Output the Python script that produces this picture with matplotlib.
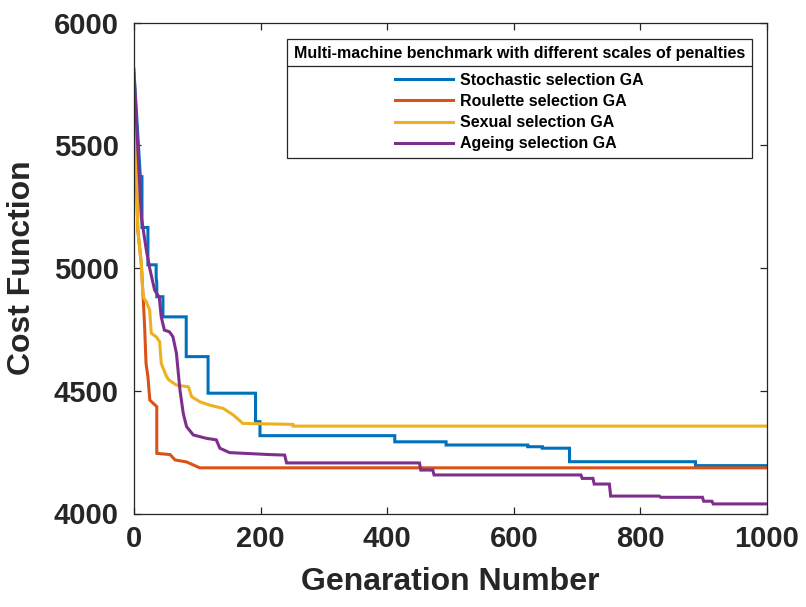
import matplotlib
matplotlib.use("Agg")
import matplotlib.pyplot as plt
from matplotlib.lines import Line2D

plt.rcParams["font.family"] = ["Liberation Sans", "DejaVu Sans"]
plt.rcParams["font.weight"] = "bold"

# Best cost per generation for each GA variant (vertices of the convergence curves)
stochastic_x = [0, 10, 12.6, 12.6, 22, 22, 35, 35, 36, 36, 45.7, 45.7, 82.5, 82.5, 117, 117,
                192, 192, 199, 199, 412, 412, 493, 493, 622, 622, 645, 645, 688, 688, 887, 887, 1000]
stochastic_y = [5800, 5372, 5372, 5165, 5165, 5013, 5013, 4960, 4940, 4883, 4883, 4801, 4801, 4639, 4639, 4490,
                4490, 4374, 4374, 4317, 4317, 4292, 4292, 4279, 4279, 4272, 4272, 4266, 4266, 4211, 4211, 4195, 4195]

roulette_x = [0, 6, 11.5, 14.7, 17, 19, 22, 25, 36, 36, 57, 65, 83, 104, 1000]
roulette_y = [5810, 5155, 5019, 4870, 4747, 4612, 4557, 4462, 4435, 4245, 4240, 4218, 4210, 4186, 4186]

sexual_x = [0, 6, 11.5, 14.2, 19.4, 24.7, 27.3, 35, 40.5, 43, 51, 55, 67, 86, 91, 104, 120, 141, 157,
            172, 251, 251, 1000]
sexual_y = [5810, 5155, 5019, 4883, 4863, 4829, 4734, 4720, 4700, 4612, 4560, 4544, 4523, 4516, 4476, 4455,
            4441, 4428, 4401, 4367, 4363, 4356, 4356]

ageing_x = [0, 11.5, 19.5, 24.7, 32.6, 40, 43, 48, 56, 61.5, 67, 72.6, 77.8, 83, 93.6, 114.7, 130, 135.6,
            151, 214.5, 238, 241, 451, 453, 472, 474, 706, 708, 725, 727, 751, 753, 830, 832, 898, 900,
            913, 915, 1000]
ageing_y = [5790, 5209, 5073, 5000, 4910, 4880, 4801, 4747, 4740, 4720, 4653, 4503, 4408, 4354, 4320, 4306,
            4300, 4266, 4248, 4240, 4238, 4206, 4206, 4177, 4177, 4157, 4157, 4143, 4143, 4120, 4120, 4071,
            4071, 4066, 4066, 4050, 4050, 4039, 4039]

labels = ["Stochastic selection GA", "Roulette selection GA", "Sexual selection GA", "Ageing selection GA"]
colors = ["#0072BD", "#D95319", "#EDB120", "#7E2F8E"]
legend_title = "Multi-machine benchmark with different scales of penalties"

x_ticks = [0, 200, 400, 600, 800, 1000]
y_ticks = [4000, 4500, 5000, 5500, 6000]

fig = plt.figure(figsize=(8.06, 6.07), dpi=100)
ax = fig.add_axes([134 / 806, 1 - 513.5 / 607, (767 - 134) / 806, 491 / 607])

series = [(stochastic_x, stochastic_y), (roulette_x, roulette_y),
          (sexual_x, sexual_y), (ageing_x, ageing_y)]
for (xs, ys), lab, col in zip(series, labels, colors):
    ax.plot(xs, ys, color=col, lw=2.2, label=lab, solid_joinstyle="miter")

ax.set_xlim(0, 1000)
ax.set_ylim(4000, 6000)
ax.set_xticks(x_ticks)
ax.set_yticks(y_ticks)
ax.tick_params(direction="in", top=True, right=True, length=5, width=0.9, color="#262626")
ax.tick_params(axis="x", labelsize=21, pad=8)
ax.tick_params(axis="y", labelsize=21, pad=11)
for lbl in ax.get_xticklabels() + ax.get_yticklabels():
    lbl.set_fontweight("bold")
    lbl.set_color("#262626")
for sp in ax.spines.values():
    sp.set_linewidth(0.9)
    sp.set_color("#262626")

ax.set_xlabel("Genaration Number", fontsize=23, fontweight="bold", labelpad=10, color="#262626")
ax.set_ylabel("Cost Function", fontsize=23, fontweight="bold", labelpad=12, color="#262626")

leg = ax.legend(title=legend_title, loc="upper right", bbox_to_anchor=(0.976, 0.966),
                prop={"size": 11.5, "weight": "bold"},
                title_fontproperties={"size": 11.5, "weight": "bold"},
                fancybox=False, framealpha=1, edgecolor="#262626", borderpad=0.42,
                labelspacing=0.39, handlelength=3.6, handletextpad=0.45, borderaxespad=0)
leg.get_frame().set_linewidth(0.9)
# wider gap between the title and the entries
leg._legend_box.sep = 8.5

# separator line between the legend title and its entries
fig.canvas.draw()
renderer = fig.canvas.get_renderer()
frame_bb = leg.get_frame().get_window_extent(renderer)
title_bb = leg.get_title().get_window_extent(renderer)
first_bb = leg.get_texts()[0].get_window_extent(renderer)
inv = fig.transFigure.inverted()
y_sep = 0.5 * (title_bb.y0 + first_bb.y1) + 1
(x0, y0) = inv.transform((frame_bb.x0, y_sep))
(x1, _) = inv.transform((frame_bb.x1, y_sep))
fig.add_artist(Line2D([x0, x1], [y0, y0], color="#262626", lw=0.9, transform=fig.transFigure))

fig.savefig("out.png", dpi=100)
